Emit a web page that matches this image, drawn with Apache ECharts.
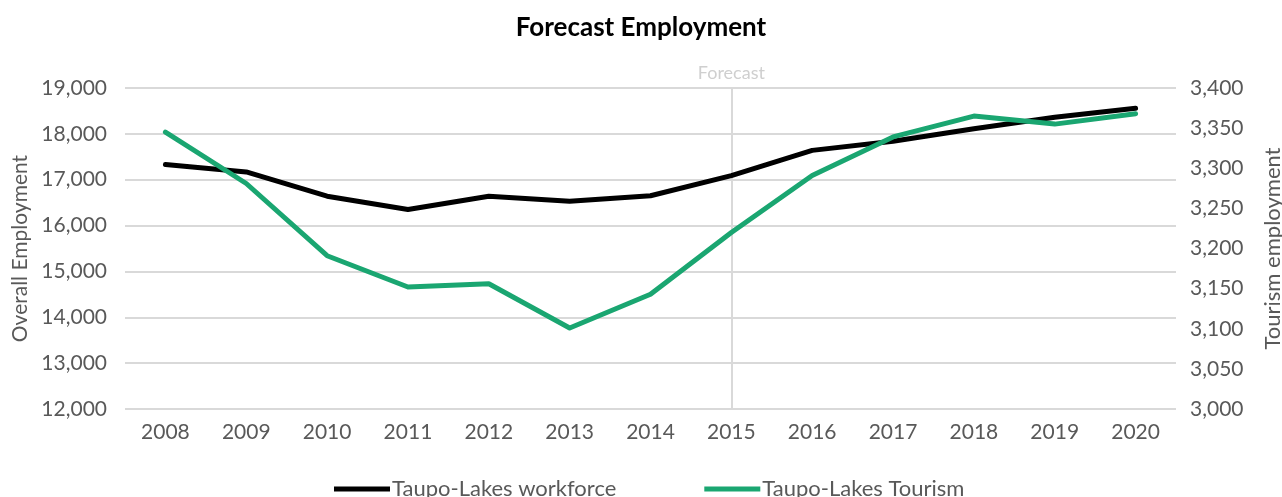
<!DOCTYPE html>
<html>
<head>
<meta charset="utf-8">
<script src="https://cdn.jsdelivr.net/npm/echarts@6/dist/echarts.min.js"></script>
<style>
  html, body { margin: 0; padding: 0; background: #fff; }
  #chart { width: 1282px; height: 497px; }
</style>
</head>
<body>
<div id="chart"></div>
<script>
// Annual employment, Taupo-Lakes (2015 onward is forecast)
const years = ['2008', '2009', '2010', '2011', '2012', '2013', '2014',
               '2015', '2016', '2017', '2018', '2019', '2020'];
const workforce = [17330, 17170, 16640, 16350, 16640, 16530, 16650,
                   17090, 17640, 17840, 18110, 18360, 18560];
const tourism = [3345, 3281, 3191, 3152, 3156, 3101, 3143,
                 3220, 3291, 3339, 3365, 3355, 3368];
const forecastStart = '2015';

const FONT = 'Lato';
const TEXT = '#595959';
const GRID = '#d9d9d9';

const chart = echarts.init(document.getElementById('chart'));
chart.setOption({
  animation: false,
  textStyle: { fontFamily: FONT },
  title: {
    text: 'Forecast Employment',
    left: 'center',
    top: 10,
    textStyle: { fontFamily: FONT, fontSize: 26, fontWeight: 'bold', color: '#000' }
  },
  legend: {
    bottom: -8,
    left: 329,
    itemWidth: 56,
    itemHeight: 5,
    itemGap: 88,
    icon: 'rect',
    textStyle: { fontFamily: FONT, fontSize: 22, color: TEXT, padding: [0, 0, 0, -3] },
    data: ['Taupo-Lakes workforce', 'Taupo-Lakes Tourism']
  },
  grid: {
    left: 125, right: 106, top: 88, bottom: 88,
    containLabel: false,
    outerBoundsMode: 'none'
  },
  xAxis: {
    type: 'category',
    data: years,
    boundaryGap: true,
    axisLine: { show: false },
    axisTick: { show: false },
    axisLabel: { color: TEXT, fontSize: 21, margin: 13 }
  },
  yAxis: [
    {
      type: 'value',
      min: 12000, max: 19000, interval: 1000,
      name: 'Overall Employment',
      nameLocation: 'middle',
      nameRotate: 90,
      nameGap: 92,
      nameTextStyle: { color: TEXT, fontSize: 21 },
      axisLine: { show: false },
      axisTick: { show: false },
      axisLabel: {
        color: TEXT, fontSize: 21, margin: 18,
        formatter: v => v.toLocaleString('en-US')
      },
      splitLine: { lineStyle: { color: GRID, width: 2 } }
    },
    {
      type: 'value',
      min: 3000, max: 3400, interval: 50,
      name: 'Tourism employment',
      nameLocation: 'middle',
      nameRotate: 90,
      nameGap: 86,
      nameTextStyle: { color: TEXT, fontSize: 22 },
      axisLine: { show: false },
      axisTick: { show: false },
      axisLabel: {
        color: TEXT, fontSize: 21, margin: 14,
        formatter: v => v.toLocaleString('en-US')
      },
      splitLine: { show: false }
    }
  ],
  series: [
    {
      name: 'Taupo-Lakes workforce',
      type: 'line',
      yAxisIndex: 0,
      data: workforce,
      symbol: 'none',
      z: 3,
      lineStyle: { color: '#000000', width: 5, cap: 'round', join: 'round' },
      itemStyle: { color: '#000000' },
      markLine: {
        silent: true,
        symbol: 'none',
        z: 1,
        lineStyle: { color: GRID, width: 2, type: 'solid' },
        label: {
          show: true,
          position: 'end',
          formatter: 'Forecast',
          color: '#cfcfcf',
          fontSize: 18,
          fontFamily: FONT,
          distance: 6
        },
        data: [{ xAxis: forecastStart }]
      }
    },
    {
      name: 'Taupo-Lakes Tourism',
      type: 'line',
      yAxisIndex: 1,
      data: tourism,
      symbol: 'none',
      z: 4,
      lineStyle: { color: '#1aa671', width: 5, cap: 'round', join: 'round' },
      itemStyle: { color: '#1aa671' }
    }
  ]
});
</script>
</body>
</html>
